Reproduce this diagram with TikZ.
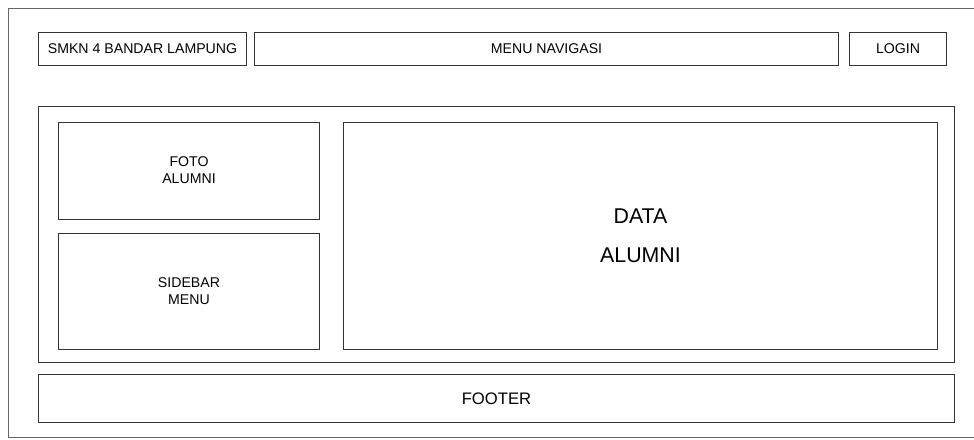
\documentclass[tikz,border=0pt]{standalone}
\usepackage{fontspec}
\setmainfont{Liberation Sans}
\definecolor{frame}{HTML}{666666}
\definecolor{boxline}{HTML}{333333}
\tikzset{
  box/.style={draw=boxline, line width=0.8pt, fill=white},
  lbl/.style={font=\fontsize{10.6pt}{12.75pt}\selectfont, align=center, text=black},
}
\begin{document}
\begin{tikzpicture}[x=0.75pt,y=-0.75pt]
\useasboundingbox (0,0) rectangle (974,439);
% outer frame (right side runs off the page)
\draw[frame, line width=0.8pt] (974,8.5) -- (8.5,8.5) -- (8.5,437.5) -- (974,437.5);
% header
\draw[box] (38.5,32.5) rectangle (246.5,65.5);
\node[lbl] (smk) at (142.5,49) {SMKN 4 BANDAR LAMPUNG};
\draw[box] (254.5,32.5) rectangle (838.5,65.5);
\node[lbl] (nav) at (546.5,49) {MENU NAVIGASI};
\draw[box] (849.5,32.5) rectangle (946.5,65.5);
\node[lbl] (login) at (898,49) {LOGIN};
% main container
\draw[box] (38.5,106.5) rectangle (954.5,362.5);
\draw[box] (58.5,122.5) rectangle (319.5,219.5);
\node[lbl] (foto) at (189,170.5) {FOTO\\ALUMNI};
\draw[box] (58.5,233.5) rectangle (319.5,349.5);
\node[lbl] (side) at (189,291.5) {SIDEBAR\\MENU};
\draw[box] (343.5,122.5) rectangle (937.5,349.5);
\node[font=\fontsize{16pt}{29pt}\selectfont, align=center] (data) at (640.5,235.5) {DATA\\ALUMNI};
% footer
\draw[box] (38.5,374.5) rectangle (954.5,422.5);
\node[font=\fontsize{12.5pt}{15pt}\selectfont] (footer) at (496.5,398.5) {FOOTER};
\end{tikzpicture}
\end{document}
